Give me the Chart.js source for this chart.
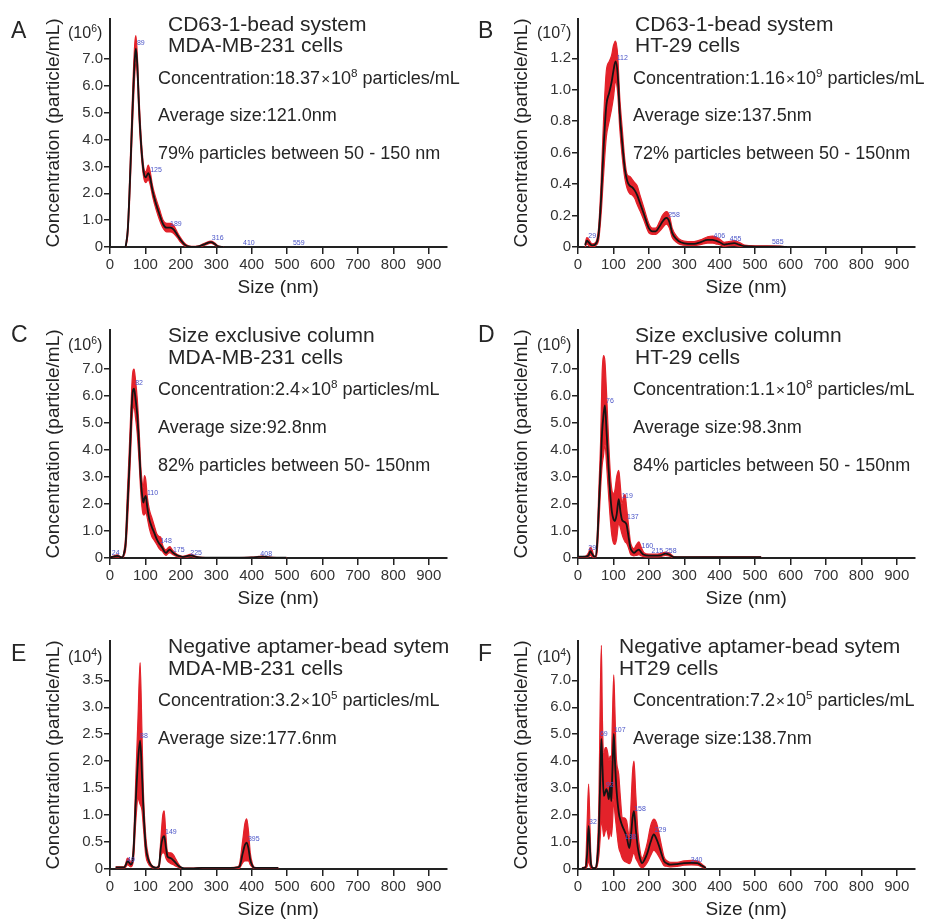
<!DOCTYPE html>
<html>
<head>
<meta charset="utf-8">
<script src="https://cdn.jsdelivr.net/npm/chart.js@4.4.1/dist/chart.umd.min.js"></script>
<style>
  body { margin: 0; background: #fff; width: 934px; height: 919px; overflow: hidden; position: relative;
         font-family: "Liberation Sans", Arial, sans-serif; color: #262626; }
  .panel { position: absolute; width: 467px; height: 302px; }
  .t { position: absolute; white-space: nowrap; line-height: 1; transform: translateY(-50%); }
  .letter { font-size: 23px; }
  .unit { font-size: 16px; }
  .title { font-size: 21px; }
  .info { font-size: 18px; }
  sup { font-size: 0.65em; vertical-align: 0.6em; line-height: 0; }
  .x { font-size: 0.85em; padding: 0 1px; }
</style>
</head>
<body>
<div class="panel" style="left:0;top:0"><canvas id="chartA" width="467" height="302"></canvas></div>
<div class="panel" style="left:468px;top:0"><canvas id="chartB" width="467" height="302"></canvas></div>
<div class="panel" style="left:0;top:311px"><canvas id="chartC" width="467" height="302"></canvas></div>
<div class="panel" style="left:468px;top:311px"><canvas id="chartD" width="467" height="302"></canvas></div>
<div class="panel" style="left:0;top:622px"><canvas id="chartE" width="467" height="302"></canvas></div>
<div class="panel" style="left:468px;top:622px"><canvas id="chartF" width="467" height="302"></canvas></div>

<!-- A -->
<div class="t letter" style="left:11px;top:30px">A</div>
<div class="t unit" style="left:68px;top:33px">(10<sup>6</sup>)</div>
<div class="t title" style="left:168px;top:23px">CD63-1-bead system</div>
<div class="t title" style="left:168px;top:44px">MDA-MB-231 cells</div>
<div class="t info" style="left:158px;top:78px">Concentration:18.37<span class="x">×</span>10<sup>8</sup> particles/mL</div>
<div class="t info" style="left:158px;top:115px">Average size:121.0nm</div>
<div class="t info" style="left:158px;top:153px">79% particles between 50 - 150 nm</div>
<!-- B -->
<div class="t letter" style="left:478px;top:30px">B</div>
<div class="t unit" style="left:537px;top:33px">(10<sup>7</sup>)</div>
<div class="t title" style="left:635px;top:23px">CD63-1-bead system</div>
<div class="t title" style="left:635px;top:44px">HT-29 cells</div>
<div class="t info" style="left:633px;top:78px">Concentration:1.16<span class="x">×</span>10<sup>9</sup> particles/mL</div>
<div class="t info" style="left:633px;top:115px">Average size:137.5nm</div>
<div class="t info" style="left:633px;top:153px">72% particles between 50 - 150nm</div>
<!-- C -->
<div class="t letter" style="left:11px;top:334px">C</div>
<div class="t unit" style="left:68px;top:345px">(10<sup>6</sup>)</div>
<div class="t title" style="left:168px;top:334px">Size exclusive column</div>
<div class="t title" style="left:168px;top:356px">MDA-MB-231 cells</div>
<div class="t info" style="left:158px;top:389px">Concentration:2.4<span class="x">×</span>10<sup>8</sup> particles/mL</div>
<div class="t info" style="left:158px;top:427px">Average size:92.8nm</div>
<div class="t info" style="left:158px;top:465px">82% particles between 50- 150nm</div>
<!-- D -->
<div class="t letter" style="left:478px;top:334px">D</div>
<div class="t unit" style="left:537px;top:345px">(10<sup>6</sup>)</div>
<div class="t title" style="left:635px;top:334px">Size exclusive column</div>
<div class="t title" style="left:635px;top:356px">HT-29 cells</div>
<div class="t info" style="left:633px;top:389px">Concentration:1.1<span class="x">×</span>10<sup>8</sup> particles/mL</div>
<div class="t info" style="left:633px;top:427px">Average size:98.3nm</div>
<div class="t info" style="left:633px;top:465px">84% particles between 50 - 150nm</div>
<!-- E -->
<div class="t letter" style="left:11px;top:653px">E</div>
<div class="t unit" style="left:68px;top:657px">(10<sup>4</sup>)</div>
<div class="t title" style="left:168px;top:645px">Negative aptamer-bead sytem</div>
<div class="t title" style="left:168px;top:667px">MDA-MB-231 cells</div>
<div class="t info" style="left:158px;top:700px">Concentration:3.2<span class="x">×</span>10<sup>5</sup> particles/mL</div>
<div class="t info" style="left:158px;top:738px">Average size:177.6nm</div>
<!-- F -->
<div class="t letter" style="left:478px;top:653px">F</div>
<div class="t unit" style="left:537px;top:657px">(10<sup>4</sup>)</div>
<div class="t title" style="left:619px;top:645px">Negative aptamer-bead sytem</div>
<div class="t title" style="left:619px;top:667px">HT29 cells</div>
<div class="t info" style="left:633px;top:700px">Concentration:7.2<span class="x">×</span>10<sup>5</sup> particles/mL</div>
<div class="t info" style="left:633px;top:738px">Average size:138.7nm</div>

<script>
const xTicks = [0, 100, 200, 300, 400, 500, 600, 700, 800, 900];
const yTicks7 = [0, 1, 2, 3, 4, 5, 6, 7];
const yTicksB = [0, 0.2, 0.4, 0.6, 0.8, 1.0, 1.2];
const yTicksE = [0, 0.5, 1.0, 1.5, 2.0, 2.5, 3.0, 3.5];

// A: CD63 bead, MDA-MB-231
const sizeA  = [44, 50, 55, 60, 65, 70, 73, 77, 82, 88, 95, 101, 108, 113, 120, 130, 140, 150, 160, 170, 180, 190, 200, 210, 220, 230, 250, 270, 285, 295, 305, 320];
const meanA  = [0, 0.6, 2.0, 3.8, 5.6, 7.0, 7.39, 6.8, 5.2, 3.8, 2.8, 2.6, 2.75, 2.6, 2.1, 1.6, 1.2, 0.85, 0.72, 0.72, 0.65, 0.45, 0.25, 0.1, 0.02, 0, 0.02, 0.12, 0.18, 0.12, 0.02, 0];
const upperA = [0, 0.8, 2.4, 4.3, 6.2, 7.6, 7.88, 7.2, 5.6, 4.1, 3.0, 2.8, 3.05, 2.85, 2.3, 1.8, 1.4, 1.0, 0.88, 0.88, 0.8, 0.55, 0.33, 0.15, 0.05, 0.02, 0.04, 0.16, 0.22, 0.16, 0.05, 0];
const lowerA = [0, 0.4, 1.6, 3.3, 5.0, 6.4, 6.9, 6.4, 4.8, 3.5, 2.6, 2.4, 2.5, 2.35, 1.9, 1.4, 1.0, 0.7, 0.56, 0.56, 0.5, 0.35, 0.17, 0.05, 0, 0, 0, 0.08, 0.14, 0.08, 0, 0];
const peakTextA = ['89', '125', '189', '316', '410', '559'];
const peakXA = [87, 130, 186, 304, 392, 533];
const peakYA = [7.6, 2.86, 0.86, 0.33, 0.15, 0.15];

// B: CD63 bead, HT-29
const sizeB  = [20, 25, 30, 40, 50, 58, 65, 72, 80, 88, 95, 100, 106, 112, 118, 125, 132, 139, 146, 153, 160, 167, 175, 186, 200, 210, 219, 230, 238, 245, 250, 258, 266, 278, 290, 310, 328, 345, 366, 380, 389, 400, 413, 425, 441, 455, 470, 500, 536, 570, 590];
const meanB  = [0.01, 0.04, 0.03, 0.01, 0.02, 0.08, 0.3, 0.62, 0.9, 0.98, 1.05, 1.12, 1.18, 1.1, 0.85, 0.66, 0.5, 0.42, 0.39, 0.38, 0.36, 0.33, 0.28, 0.21, 0.12, 0.1, 0.1, 0.13, 0.16, 0.18, 0.185, 0.16, 0.09, 0.05, 0.03, 0.02, 0.02, 0.03, 0.045, 0.045, 0.04, 0.03, 0.015, 0.02, 0.025, 0.015, 0.005, 0.003, 0.003, 0.002, 0];
const upperB = [0.02, 0.06, 0.05, 0.02, 0.03, 0.12, 0.4, 0.8, 1.12, 1.18, 1.22, 1.28, 1.31, 1.22, 0.95, 0.75, 0.56, 0.46, 0.45, 0.43, 0.41, 0.39, 0.33, 0.25, 0.15, 0.12, 0.12, 0.16, 0.2, 0.22, 0.225, 0.2, 0.12, 0.07, 0.045, 0.035, 0.035, 0.045, 0.065, 0.07, 0.065, 0.05, 0.03, 0.035, 0.04, 0.03, 0.012, 0.008, 0.008, 0.006, 0];
const lowerB = [0, 0.02, 0.01, 0, 0.01, 0.04, 0.2, 0.45, 0.7, 0.8, 0.88, 0.95, 1.05, 0.98, 0.75, 0.57, 0.44, 0.37, 0.34, 0.33, 0.31, 0.27, 0.23, 0.17, 0.09, 0.08, 0.08, 0.1, 0.12, 0.14, 0.145, 0.12, 0.06, 0.03, 0.015, 0.01, 0.01, 0.015, 0.025, 0.025, 0.02, 0.015, 0.005, 0.008, 0.01, 0.005, 0, 0, 0, 0, 0];
const peakTextB = ['29', '112', '258', '406', '455', '585'];
const peakXB = [40, 125, 271, 399, 445, 564];
const peakYB = [0.07, 1.2, 0.2, 0.07, 0.05, 0.03];

// C: size exclusion column, MDA-MB-231
const sizeC  = [0, 10, 20, 30, 35, 40, 44, 49, 54, 58, 63, 68, 72, 77, 82, 87, 91, 94, 97, 101, 105, 111, 118, 125, 132, 139, 144, 148, 153, 158, 164, 169, 176, 186, 195, 205, 215, 229, 240, 252, 270, 300, 350, 400, 420, 431, 445, 470, 498];
const meanC  = [0.02, 0.05, 0.08, 0.03, 0.02, 0.2, 0.5, 1.8, 3.2, 4.5, 6.0, 6.28, 5.9, 5.3, 4.2, 2.9, 2.3, 2.05, 2.2, 2.3, 1.9, 1.43, 1.15, 0.93, 0.7, 0.53, 0.45, 0.37, 0.25, 0.19, 0.27, 0.31, 0.22, 0.12, 0.07, 0.04, 0.06, 0.1, 0.05, 0.02, 0.01, 0.01, 0.01, 0.02, 0.04, 0.05, 0.03, 0.01, 0.01];
const upperC = [0.03, 0.07, 0.12, 0.05, 0.04, 0.3, 0.8, 2.4, 3.9, 5.2, 6.7, 7.0, 6.6, 5.9, 4.8, 3.4, 2.8, 2.6, 3.05, 2.9, 2.3, 1.8, 1.5, 1.2, 0.9, 0.8, 0.75, 0.5, 0.35, 0.3, 0.38, 0.42, 0.3, 0.17, 0.1, 0.06, 0.09, 0.14, 0.07, 0.03, 0.015, 0.015, 0.015, 0.03, 0.06, 0.07, 0.04, 0.015, 0.015];
const lowerC = [0.01, 0.03, 0.04, 0.01, 0, 0.1, 0.3, 1.2, 2.6, 3.8, 5.3, 5.6, 5.2, 4.6, 3.6, 2.4, 1.8, 1.6, 1.6, 1.7, 1.5, 1.1, 0.8, 0.65, 0.5, 0.35, 0.28, 0.25, 0.15, 0.1, 0.17, 0.2, 0.14, 0.07, 0.04, 0.02, 0.03, 0.06, 0.03, 0.01, 0.005, 0.005, 0.005, 0.01, 0.02, 0.03, 0.02, 0.005, 0.005];
const peakTextC = ['24', '82', '110', '148', '175', '225', '408'];
const peakXC = [16, 82, 120, 158, 194, 243, 441];
const peakYC = [0.19, 6.47, 2.4, 0.62, 0.31, 0.19, 0.16];

// D: size exclusion column, HT-29
const sizeD  = [0, 20, 30, 35, 40, 45, 49, 54, 59, 64, 68, 72, 76, 81, 87, 92, 96, 100, 104, 109, 115, 120, 124, 129, 133, 137, 142, 148, 153, 158, 165, 172, 179, 186, 200, 214, 233, 247, 258, 271, 290, 350, 420, 517];
const meanD  = [0.05, 0.05, 0.1, 0.25, 0.15, 0.06, 0.05, 0.5, 1.93, 3.4, 4.66, 5.3, 5.66, 4.6, 3.17, 2.2, 1.68, 1.45, 1.37, 1.6, 2.18, 1.7, 1.43, 1.35, 1.32, 1.24, 0.85, 0.37, 0.25, 0.19, 0.26, 0.31, 0.2, 0.12, 0.09, 0.09, 0.1, 0.16, 0.12, 0.03, 0.03, 0.03, 0.03, 0.03];
const upperD = [0.05, 0.06, 0.2, 0.4, 0.3, 0.08, 0.06, 0.8, 2.6, 4.4, 6.8, 7.5, 7.3, 6.0, 4.2, 3.0, 2.5, 2.4, 2.5, 3.0, 3.25, 2.6, 2.0, 2.3, 2.35, 1.9, 1.3, 0.6, 0.4, 0.35, 0.5, 0.6, 0.38, 0.2, 0.14, 0.14, 0.16, 0.22, 0.18, 0.05, 0.04, 0.04, 0.04, 0.04];
const lowerD = [0.03, 0.03, 0.05, 0.1, 0.05, 0.03, 0.03, 0.2, 1.3, 2.6, 3.4, 3.8, 4.2, 3.4, 2.2, 1.3, 0.8, 0.55, 0.5, 0.7, 1.3, 1.1, 0.9, 0.7, 0.6, 0.55, 0.4, 0.15, 0.1, 0.08, 0.1, 0.12, 0.08, 0.05, 0.04, 0.04, 0.05, 0.1, 0.07, 0.01, 0.01, 0.02, 0.02, 0.02];
const peakTextD = ['29', '76', '119', '137', '160', '215', '258'];
const peakXD = [40, 90, 139, 155, 196, 224, 262];
const peakYD = [0.37, 5.8, 2.3, 1.52, 0.44, 0.25, 0.25];

// E: negative aptamer bead, MDA-MB-231
const sizeE  = [16, 40, 45, 49, 54, 59, 66, 73, 79, 85, 90, 94, 101, 108, 115, 130, 138, 144, 149, 153, 158, 162, 167, 172, 179, 186, 193, 200, 210, 230, 260, 300, 340, 360, 366, 375, 381, 386, 391, 396, 402, 408, 420, 450, 475];
const meanE  = [0.03, 0.03, 0.08, 0.14, 0.12, 0.08, 0.3, 1.3, 2.0, 2.38, 1.8, 1.17, 0.42, 0.18, 0.08, 0.02, 0.05, 0.42, 0.58, 0.61, 0.4, 0.24, 0.21, 0.2, 0.16, 0.11, 0.06, 0.03, 0.01, 0.01, 0.02, 0.02, 0.02, 0.03, 0.05, 0.3, 0.45, 0.49, 0.38, 0.17, 0.06, 0.02, 0.02, 0.02, 0.02];
const upperE = [0.04, 0.04, 0.12, 0.2, 0.18, 0.12, 0.45, 1.7, 2.8, 3.83, 2.6, 1.5, 0.6, 0.25, 0.1, 0.03, 0.08, 0.6, 1.0, 1.08, 0.6, 0.32, 0.3, 0.3, 0.26, 0.18, 0.1, 0.04, 0.015, 0.015, 0.025, 0.025, 0.025, 0.04, 0.1, 0.55, 0.85, 0.93, 0.7, 0.3, 0.1, 0.03, 0.025, 0.025, 0.025];
const lowerE = [0.02, 0.02, 0.04, 0.08, 0.06, 0.04, 0.15, 0.9, 1.3, 1.2, 1.1, 0.8, 0.25, 0.1, 0.04, 0.01, 0.02, 0.25, 0.3, 0.3, 0.2, 0.15, 0.12, 0.1, 0.08, 0.05, 0.03, 0.01, 0.005, 0.005, 0.01, 0.01, 0.01, 0.01, 0.02, 0.12, 0.15, 0.15, 0.15, 0.08, 0.03, 0.01, 0.01, 0.01, 0.01];
const peakTextE = ['49', '88', '149', '395'];
const peakXE = [59, 96, 172, 406];
const peakYE = [0.17, 2.46, 0.69, 0.55];

// F: negative aptamer bead, HT29
const sizeF  = [11, 21, 26, 30, 34, 37, 43, 49, 54, 59, 63, 66, 69, 73, 77, 80, 84, 87, 91, 94, 97, 101, 104, 108, 115, 120, 125, 130, 137, 145, 150, 154, 158, 163, 169, 175, 181, 188, 196, 205, 214, 222, 229, 236, 243, 252, 262, 280, 299, 320, 337, 350, 361];
const meanF  = [0.03, 0.05, 0.6, 1.6, 0.7, 0.15, 0.03, 0.03, 0.3, 1.34, 3.5, 4.83, 3.8, 2.71, 2.85, 2.96, 2.8, 2.59, 3.08, 2.52, 3.6, 5.01, 4.1, 3.08, 2.09, 1.8, 1.6, 1.45, 1.22, 0.78, 1.3, 1.9, 2.15, 1.5, 0.78, 0.4, 0.22, 0.35, 0.6, 1.0, 1.28, 1.1, 0.85, 0.55, 0.29, 0.2, 0.16, 0.18, 0.22, 0.23, 0.22, 0.12, 0.04];
const upperF = [0.05, 0.1, 1.8, 3.15, 1.5, 0.3, 0.05, 0.05, 0.6, 2.5, 6.5, 8.3, 5.5, 4.3, 4.5, 4.5, 4.3, 4.0, 4.2, 4.0, 5.5, 7.2, 6.0, 4.2, 3.5, 2.6, 1.9, 1.9, 1.8, 1.2, 2.5, 3.6, 4.0, 2.8, 1.4, 0.7, 0.4, 0.6, 1.0, 1.6, 1.85, 1.7, 1.3, 0.85, 0.45, 0.3, 0.25, 0.25, 0.3, 0.32, 0.3, 0.18, 0.06];
const lowerF = [0.01, 0.02, 0.1, 0.3, 0.1, 0.02, 0.01, 0.01, 0.1, 0.5, 1.2, 1.8, 1.6, 1.2, 1.4, 1.5, 1.3, 1.1, 1.5, 1.2, 1.6, 2.6, 2.1, 1.6, 0.8, 0.6, 0.4, 0.3, 0.25, 0.2, 0.3, 0.5, 0.6, 0.4, 0.25, 0.1, 0.05, 0.1, 0.25, 0.5, 0.7, 0.6, 0.45, 0.28, 0.12, 0.1, 0.08, 0.1, 0.14, 0.15, 0.14, 0.07, 0.02];
const peakTextF = ['32', '69', '92', '107', '138', '158', '229', '340'];
const peakXF = [42, 73, 90, 118, 148, 175, 233, 335];
const peakYF = [1.74, 5.01, 3.1, 5.17, 1.19, 2.24, 1.43, 0.35];

Chart.defaults.font.family = '"Liberation Sans", Arial, sans-serif';
Chart.defaults.color = '#2a2a2a';

const red = '#e3222a';
const ink = '#222';

// small blue numbers next to the peaks
const peakLabels = {
  id: 'peakLabels',
  afterDatasetsDraw(chart, args, opts) {
    const { ctx, scales: { x, y } } = chart;
    ctx.save();
    ctx.font = '7px "Liberation Sans", Arial, sans-serif';
    ctx.fillStyle = '#4b55c8';
    ctx.textAlign = 'center';
    ctx.textBaseline = 'middle';
    opts.text.forEach((t, i) => {
      ctx.fillText(t, x.getPixelForValue(opts.xs[i]), y.getPixelForValue(opts.ys[i]));
    });
    ctx.restore();
  }
};

function pts(sizes, vals) {
  return sizes.map((s, i) => ({ x: s, y: vals[i] }));
}

function makeChart(id, sizes, mean, upper, lower, yMax, yTicks, text, xs, ys) {
  new Chart(document.getElementById(id), {
    type: 'line',
    data: {
      datasets: [
        { data: pts(sizes, mean), borderColor: '#141414', borderWidth: 1.8, pointRadius: 0, cubicInterpolationMode: 'monotone', fill: false },
        { data: pts(sizes, upper), borderColor: red, backgroundColor: red, borderWidth: 1.2, pointRadius: 0, cubicInterpolationMode: 'monotone', fill: '+1' },
        { data: pts(sizes, lower), borderColor: red, borderWidth: 1.2, pointRadius: 0, cubicInterpolationMode: 'monotone', fill: false }
      ]
    },
    options: {
      responsive: false,
      animation: false,
      layout: { padding: { left: 0, right: 20.5, top: 19, bottom: 0 } },
      plugins: {
        legend: { display: false },
        tooltip: { enabled: false },
        peakLabels: { text: text, xs: xs, ys: ys }
      },
      scales: {
        x: {
          type: 'linear',
          min: 0,
          max: 950,
          afterBuildTicks: s => { s.ticks = xTicks.map(v => ({ value: v })); },
          afterFit: s => { s.height = 55; },
          border: { color: ink, width: 2 },
          grid: { drawOnChartArea: false, color: ink, lineWidth: 1.5, tickLength: 7 },
          ticks: { color: '#333', font: { size: 15 }, padding: 2, maxRotation: 0, autoSkip: false },
          title: { display: true, text: 'Size (nm)', color: ink, font: { size: 19 }, padding: { top: 0, bottom: 3 } }
        },
        y: {
          min: 0,
          max: yMax,
          afterBuildTicks: s => { s.ticks = yTicks.map(v => ({ value: v })); },
          afterFit: s => { s.width = 110; },
          border: { color: ink, width: 2 },
          grid: { drawOnChartArea: false, color: ink, lineWidth: 1.5, tickLength: 6 },
          ticks: { color: '#333', font: { size: 15 }, padding: 1, callback: v => v === 0 ? '0' : v.toFixed(1) },
          title: { display: true, text: 'Concentration (particle/mL)', color: ink, font: { size: 19 }, padding: { top: 42, bottom: 0 } }
        }
      }
    },
    plugins: [peakLabels]
  });
}

makeChart('chartA', sizeA, meanA, upperA, lowerA, 8.5, yTicks7, peakTextA, peakXA, peakYA);
makeChart('chartB', sizeB, meanB, upperB, lowerB, 1.45, yTicksB, peakTextB, peakXB, peakYB);
makeChart('chartC', sizeC, meanC, upperC, lowerC, 8.45, yTicks7, peakTextC, peakXC, peakYC);
makeChart('chartD', sizeD, meanD, upperD, lowerD, 8.45, yTicks7, peakTextD, peakXD, peakYD);
makeChart('chartE', sizeE, meanE, upperE, lowerE, 4.23, yTicksE, peakTextE, peakXE, peakYE);
makeChart('chartF', sizeF, meanF, upperF, lowerF, 8.46, yTicks7, peakTextF, peakXF, peakYF);
</script>
</body>
</html>
